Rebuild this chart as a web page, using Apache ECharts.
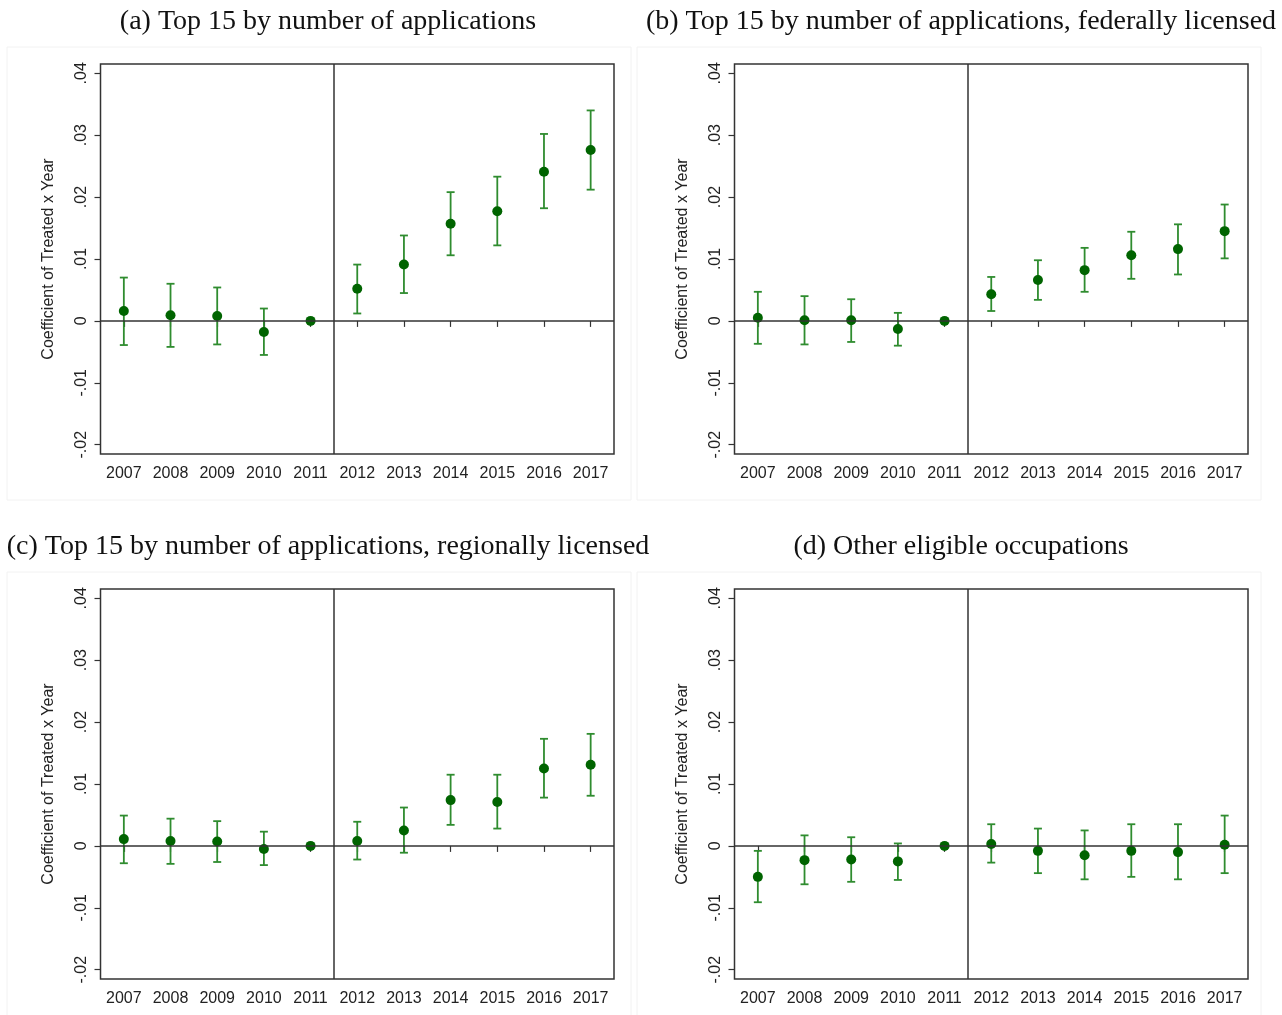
<!doctype html>
<html lang="en">
<head>
<meta charset="UTF-8">
<title>Coefficient of Treated x Year</title>
<style>html,body{margin:0;padding:0;background:#fff}</style>
</head>
<body>
<div id="chart" style="width:1282px;height:1015px"></div>
<script src="https://cdn.jsdelivr.net/npm/echarts@6/dist/echarts.min.js"></script>
<script>
var years = [2007, 2008, 2009, 2010, 2011, 2012, 2013, 2014, 2015, 2016, 2017];
var yTicks = [-0.02, -0.01, 0, 0.01, 0.02, 0.03, 0.04];

var titles = [
    '(a) Top 15 by number of applications',
    '(b) Top 15 by number of applications, federally licensed',
    '(c) Top 15 by number of applications, regionally licensed',
    '(d) Other eligible occupations'
];

// (a) top 15
var coefA = [0.0016, 0.0009, 0.0008, -0.0018, 0, 0.0052, 0.0091, 0.0157, 0.0177, 0.0241, 0.0276];
var loA = [-0.0039, -0.0042, -0.0038, -0.0055, 0, 0.0012, 0.0045, 0.0106, 0.0122, 0.0182, 0.0212];
var hiA = [0.0070, 0.0060, 0.0054, 0.0020, 0, 0.0091, 0.0138, 0.0208, 0.0233, 0.0302, 0.0340];

// (b) federally licensed
var coefB = [0.0005, 0.0001, 0.0001, -0.0013, 0, 0.0043, 0.0066, 0.0082, 0.0106, 0.0116, 0.0145];
var loB = [-0.0037, -0.0038, -0.0034, -0.0040, 0, 0.0016, 0.0034, 0.0047, 0.0068, 0.0075, 0.0101];
var hiB = [0.0047, 0.0040, 0.0035, 0.0013, 0, 0.0071, 0.0098, 0.0118, 0.0144, 0.0156, 0.0188];

// (c) regionally licensed
var coefC = [0.0011, 0.0008, 0.0007, -0.0005, 0, 0.0008, 0.0025, 0.0074, 0.0071, 0.0125, 0.0131];
var loC = [-0.0028, -0.0029, -0.0026, -0.0031, 0, -0.0022, -0.0011, 0.0034, 0.0028, 0.0078, 0.0081];
var hiC = [0.0049, 0.0044, 0.0040, 0.0023, 0, 0.0039, 0.0062, 0.0115, 0.0115, 0.0173, 0.0181];

// (d) other eligible
var coefD = [-0.0050, -0.0023, -0.0022, -0.0025, 0, 0.0003, -0.0008, -0.0015, -0.0008, -0.0010, 0.0002];
var loD = [-0.0091, -0.0062, -0.0058, -0.0055, 0, -0.0027, -0.0044, -0.0054, -0.0050, -0.0054, -0.0044];
var hiD = [-0.0008, 0.0017, 0.0014, 0.0004, 0, 0.0035, 0.0028, 0.0025, 0.0035, 0.0035, 0.0049];

var panels = [
    {coef: coefA, lo: loA, hi: hiA},
    {coef: coefB, lo: loB, hi: hiB},
    {coef: coefC, lo: loC, hi: hiC},
    {coef: coefD, lo: loD, hi: hiD}
];

var dotColor = '#006400';
var barColor = '#2f8c2f';
var lineColor = '#333';
var sans = 'Liberation Sans, Arial, sans-serif';
var serif = 'Liberation Serif, Times New Roman, serif';

var chart = echarts.init(document.getElementById('chart'));

function fmtY(v) {
    if (v === 0) return '0';
    return String(+v.toFixed(2)).replace('0.', '.');
}

function renderBar(params, api) {
    var x = api.value(0), lo = api.value(1), hi = api.value(2);
    if (lo === hi) return;
    var a = api.coord([x, lo]);
    var b = api.coord([x, hi]);
    var cap = 4;
    var st = {stroke: barColor, lineWidth: 1.8};
    return {
        type: 'group',
        children: [
            {type: 'line', shape: {x1: a[0], y1: a[1], x2: b[0], y2: b[1]}, style: st},
            {type: 'line', shape: {x1: a[0] - cap, y1: a[1], x2: a[0] + cap, y2: a[1]}, style: st},
            {type: 'line', shape: {x1: b[0] - cap, y1: b[1], x2: b[0] + cap, y2: b[1]}, style: st}
        ]
    };
}

var grid = [], xAxis = [], yAxis = [], series = [], title = [], graphic = [];
var colLeft = [100.5, 734.5], rowTop = [64, 589];
var titleX = [323, 956], titleY = [3, 528];
var frameX = [7, 637], frameY = [47, 572];

panels.forEach(function (p, i) {
    var c = i % 2, r = Math.floor(i / 2);
    grid.push({
        left: colLeft[c], top: rowTop[r], width: 513.5, height: 390,
        show: true, borderColor: lineColor, borderWidth: 1.5, containLabel: false
    });
    title.push({
        text: titles[i], left: titleX[c], top: titleY[r], textAlign: 'center',
        textStyle: {fontFamily: serif, fontSize: 28, fontWeight: 'normal', color: '#111'}
    });
    graphic.push({
        type: 'rect', shape: {x: frameX[c], y: frameY[r], width: 624, height: 453},
        style: {fill: 'none', stroke: '#f2f2f2', lineWidth: 1}, z: -1
    });
    xAxis.push({
        gridIndex: i, type: 'value', min: 2006.5, max: 2017.5,
        splitLine: {show: false},
        axisLine: {show: false},
        axisTick: {show: true, length: 6, customValues: years, lineStyle: {color: lineColor, width: 1.2}},
        axisLabel: {customValues: years, margin: 12, fontFamily: sans, fontSize: 16, color: '#222',
            formatter: function (v) { return String(v); }}
    });
    yAxis.push({
        gridIndex: i, type: 'value', min: -0.0215, max: 0.0415,
        name: 'Coefficient of Treated x Year', nameLocation: 'middle', nameGap: 44,
        nameTextStyle: {fontFamily: sans, fontSize: 16, color: '#222'},
        splitLine: {show: false},
        axisLine: {show: false},
        axisTick: {show: true, length: 6, customValues: yTicks, lineStyle: {color: lineColor, width: 1.2}},
        axisLabel: {customValues: yTicks, rotate: 90, margin: 11, formatter: fmtY,
            fontFamily: sans, fontSize: 16, color: '#222'}
    });
    series.push({
        type: 'custom', xAxisIndex: i, yAxisIndex: i,
        renderItem: renderBar,
        encode: {x: 0, y: [1, 2]},
        data: years.map(function (y, k) { return [y, p.lo[k], p.hi[k]]; }),
        z: 3
    });
    series.push({
        type: 'scatter', xAxisIndex: i, yAxisIndex: i,
        symbolSize: 10,
        itemStyle: {color: dotColor, opacity: 1},
        data: years.map(function (y, k) { return [y, p.coef[k]]; }),
        markLine: {
            silent: true, symbol: 'none', label: {show: false},
            lineStyle: {color: lineColor, width: 1.5, type: 'solid'},
            data: [{xAxis: 2011.5}, {yAxis: 0}]
        },
        z: 4
    });
});

chart.setOption({
    animation: false,
    backgroundColor: '#fff',
    title: title,
    graphic: graphic,
    grid: grid,
    xAxis: xAxis,
    yAxis: yAxis,
    series: series
});
</script>
</body>
</html>
